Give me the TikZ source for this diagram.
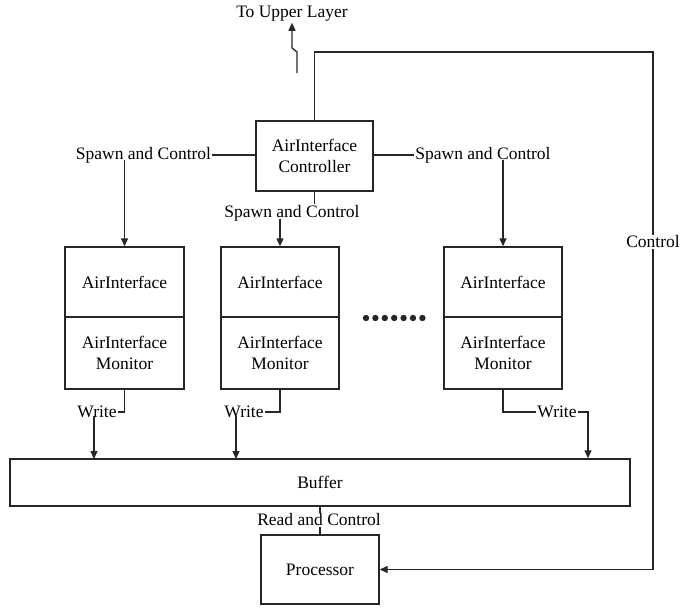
\documentclass[tikz,border=0pt]{standalone}
\usepackage{fontspec}
\setmainfont{Liberation Serif}
\usetikzlibrary{arrows.meta,calc}
\begin{document}
\begin{tikzpicture}[x=1pt,y=-1pt,
  every node/.style={font=\fontsize{17.5}{21}\selectfont},
  line/.style={line width=1.4pt,draw=black!85},
  arr/.style={line, -{Triangle[length=8pt,width=7pt]}},
  blk/.style={line, draw, rectangle, inner sep=0pt, align=center},
  lbl/.style={inner sep=1pt}]
\useasboundingbox (0,0) rectangle (694,608);
% boxes
\node[blk, minimum width=117pt, minimum height=70pt] (ctrl) at (314.5,156) {AirInterface\\Controller};
\node[blk, minimum width=119pt, minimum height=70pt] (ai1) at (124.5,282) {AirInterface};
\node[blk, minimum width=119pt, minimum height=72pt] (mon1) at (124.5,353) {AirInterface\\Monitor};
\node[blk, minimum width=118pt, minimum height=70pt] (ai2) at (280,282) {AirInterface};
\node[blk, minimum width=118pt, minimum height=72pt] (mon2) at (280,353) {AirInterface\\Monitor};
\node[blk, minimum width=118pt, minimum height=70pt] (ai3) at (503,282) {AirInterface};
\node[blk, minimum width=118pt, minimum height=72pt] (mon3) at (503,353) {AirInterface\\Monitor};
\node[blk, minimum width=620pt, minimum height=47pt] (buf) at (320,482.5) {Buffer};
\node[blk, minimum width=118pt, minimum height=69pt] (proc) at (320,569.5) {Processor};
% labels
\node[lbl] (upper) at (292,14) {To Upper Layer};
\node[lbl] (sc1) at (143.5,155) {Spawn and Control};
\node[lbl] (sc2) at (292,213) {Spawn and Control};
\node[lbl] (sc3) at (483,155) {Spawn and Control};
\node[lbl] (w1) at (97,412) {Write};
\node[lbl] (w2) at (244,412) {Write};
\node[lbl] (w3) at (557,412) {Write};
\node[lbl] (rc) at (319,520) {Read and Control};
\node[lbl] (ctl) at (653,242) {Control};
% coordinates
\coordinate (u0) at (297,73);
\coordinate (u1) at (297,52);
\coordinate (u2) at (292,48);
\coordinate (top) at (653,52);
\coordinate (b1) at (94,459);
\coordinate (b2) at (236,459);
\coordinate (w3c) at (588,412);
% dots
\foreach \i in {0,...,6} \fill[black!85] (366+9.4*\i,318) circle (3.2pt);
% connectors
\draw[arr] (u0) -- (u1) -- (u2) -- (upper.south);
\draw[line] (ctrl.west |- sc1.east) -- (sc1.east);
\draw[arr] ([yshift=4pt]sc1.south -| ai1.north) -- (ai1.north);
\draw[line] (ctrl.south) -- (ctrl.south |- sc2.north);
\draw[arr] ([yshift=3pt]sc2.south -| ai2.north) -- (ai2.north);
\draw[line] (ctrl.east |- sc3.west) -- (sc3.west);
\draw[arr] ([yshift=4pt]sc3.south -| ai3.north) -- (ai3.north);
\draw[line] (mon1.south) -- (mon1.south |- w1.east) -- (w1.east);
\draw[arr] ([yshift=3pt]w1.south -| b1) -- (b1);
\draw[line] (mon2.south) -- (mon2.south |- w2.east) -- (w2.east);
\draw[arr] ([yshift=3pt]w2.south -| b2) -- (b2);
\draw[line] (mon3.south) -- (mon3.south |- w3.west) -- (w3.west);
\draw[arr] (w3.east) -- (w3c) -- (w3c |- buf.north);
\draw[line] (buf.south) -- (buf.south |- rc.north);
\draw[line] (proc.north |- rc.south) -- (proc.north);
\draw[line] (ctrl.north) -- (ctrl.north |- top) -- (top) -- (ctl.north);
\draw[arr] (ctl.south) -- (ctl.south |- proc.east) -- (proc.east);
\end{tikzpicture}
\end{document}
